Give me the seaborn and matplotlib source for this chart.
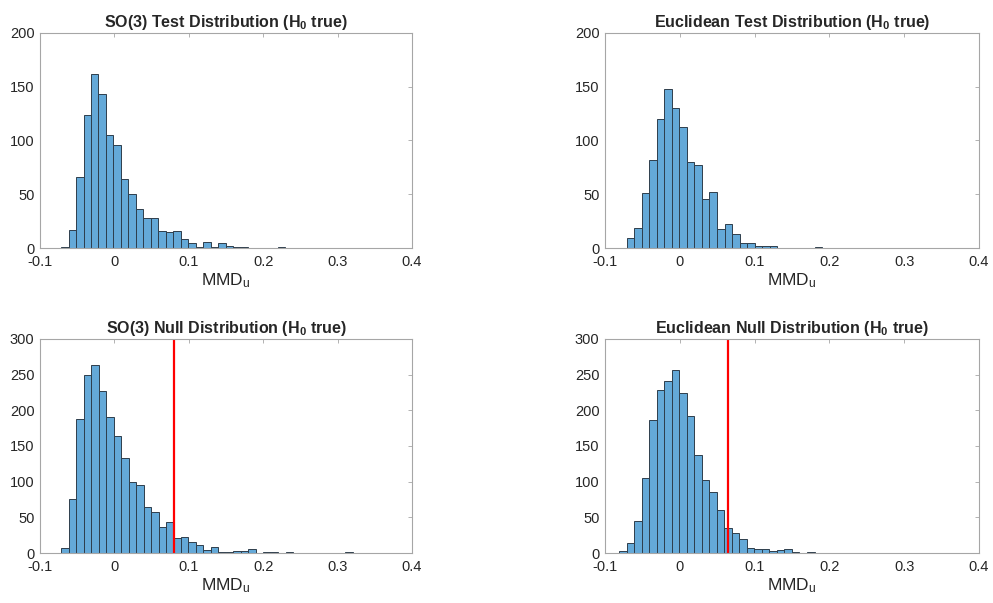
import numpy as np
import pandas as pd
import matplotlib
matplotlib.use('Agg')
import matplotlib.pyplot as plt
import seaborn as sns

# bin counts (bin width ~0.01)
bin_width = 0.01005

so3_test_start = -0.0717
so3_test_counts = [1, 17, 66, 124, 162, 143, 105, 96, 64, 50, 36, 28, 28, 16, 15, 16, 8, 5,
                   1, 6, 1, 5, 2, 1, 1, 0, 0, 0, 0, 1]

euc_test_start = -0.0709
euc_test_counts = [9, 19, 51, 82, 120, 148, 130, 113, 80, 77, 46, 52, 18, 22, 13, 5, 5, 2,
                   2, 2, 0, 0, 0, 0, 0, 1]

so3_null_start = -0.0713
so3_null_counts = [7, 75, 188, 250, 263, 227, 190, 164, 133, 99, 95, 65, 58, 37, 43, 21, 23,
                   15, 11, 4, 8, 1, 2, 3, 3, 5, 0, 1, 1, 0, 1, 0, 0, 0, 0, 0, 0, 0, 1]
so3_null_threshold = 0.0803

euc_null_start = -0.0812
euc_null_counts = [3, 14, 45, 105, 186, 229, 241, 257, 224, 192, 138, 103, 86, 60, 35, 28,
                   20, 7, 6, 5, 3, 4, 6, 2, 0, 1]
euc_null_threshold = 0.065

titles = ['SO(3) Test Distribution (H$_\\mathbf{0}$ true)',
          'Euclidean Test Distribution (H$_\\mathbf{0}$ true)',
          'SO(3) Null Distribution (H$_\\mathbf{0}$ true)',
          'Euclidean Null Distribution (H$_\\mathbf{0}$ true)']
x_ticks = [-0.1, 0, 0.1, 0.2, 0.3, 0.4]
x_ticklabels = ['-0.1', '0', '0.1', '0.2', '0.3', '0.4']

sns.set_theme(style='white')
plt.rcParams['font.family'] = ['Liberation Sans', 'DejaVu Sans']
plt.rcParams['mathtext.fontset'] = 'custom'
plt.rcParams['mathtext.rm'] = 'Liberation Sans'
plt.rcParams['mathtext.it'] = 'Liberation Sans'
plt.rcParams['mathtext.bf'] = 'Liberation Sans:bold'
plt.rcParams['axes.unicode_minus'] = False

fig = plt.figure(figsize=(9.93, 6.03), dpi=100)
positions = [
    [0.0403, 0.5887, 0.3746, 0.3566],
    [0.6093, 0.5887, 0.3766, 0.3566],
    [0.0403, 0.0829, 0.3746, 0.3550],
    [0.6093, 0.0829, 0.3766, 0.3550],
]
panels = [
    (so3_test_start, so3_test_counts, None, 200),
    (euc_test_start, euc_test_counts, None, 200),
    (so3_null_start, so3_null_counts, so3_null_threshold, 300),
    (euc_null_start, euc_null_counts, euc_null_threshold, 300),
]

face = '#64A9D8'
edge = '#2E3E4C'
box = '#A6A6A6'

for pos, (start, counts, thr, ymax), title in zip(positions, panels, titles):
    ax = fig.add_axes(pos)
    edges = start + bin_width * np.arange(len(counts) + 1)
    df = pd.DataFrame({'x': (edges[:-1] + edges[1:]) / 2, 'n': counts})
    sns.histplot(data=df, x='x', weights='n', bins=edges.tolist(), ax=ax, color=face,
                 alpha=1, edgecolor=edge, linewidth=0.7)
    if thr is not None:
        ax.axvline(thr, color='#FF0000', lw=1.6)
    ax.set_xlim(-0.1, 0.4)
    ax.set_ylim(0, ymax)
    ax.set_xticks(x_ticks)
    ax.set_xticklabels(x_ticklabels)
    ax.set_yticks(np.arange(0, ymax + 1, 50))
    ax.set_ylabel('')
    ax.set_xlabel('MMD$_u$', fontsize=12.5, color='#262626', labelpad=2)
    ax.set_title(title, fontsize=11.5, fontweight='bold', pad=4)
    for s in ax.spines.values():
        s.set_color(box)
        s.set_linewidth(0.8)
    ax.tick_params(direction='in', length=3, width=0.6, color=box, top=True, right=True,
                   labelsize=10.5, labelcolor='#262626')
    ax.tick_params(axis='x', pad=5)
    ax.tick_params(axis='y', pad=4)
    ax.grid(False)

fig.savefig('out.png', dpi=100)
